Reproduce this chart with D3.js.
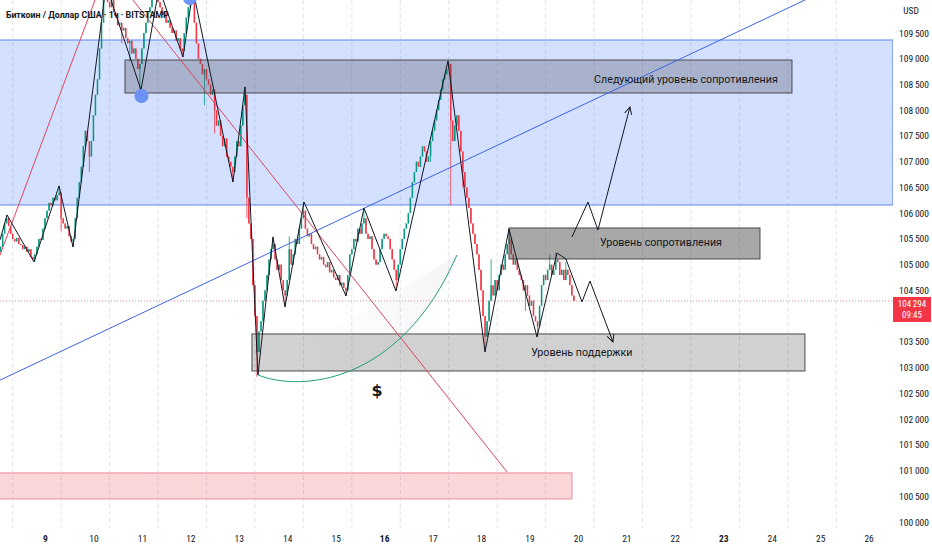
<!DOCTYPE html>
<html>
<head>
<meta charset="utf-8">
<script src="https://cdn.jsdelivr.net/npm/d3@7"></script>
<style>
  body { margin: 0; background: #fff; }
  svg { display: block; }
  .ax { font-family: "Liberation Sans Narrow", "Roboto Condensed", "Liberation Sans", sans-serif; font-size: 9.5px; fill: #131722; }
  .note { font-family: Roboto, "Noto Sans", sans-serif; font-size: 10.7px; fill: #131722; }
</style>
</head>
<body>
<svg id="chart"></svg>
<script>
// hourly closes, BTC/USD, from 8 June 02:00
const closes = [
  105350,105600,105800,105900,105750,105600,105500,105450,105520,105400,105380,105300,105350,105250,105300,105150,105100,105200,
  105350,105500,105480,105700,105900,106050,106200,106150,106300,106250,106350,106400,
  105900,105800,105700,105750,105550,105450,105500,
  105900,106300,106600,106900,107300,107600,107400,107100,107400,107900,108300,108600,109200,109700,110200,110350,
  110100,110000,110150,109900,109800,109650,109700,109550,109600,109400,109300,109350,109100,109200,109000,108800,108900,109200,
  109500,109700,109900,110000,110200,110300,110250,
  110100,110000,109850,109900,109700,109750,109600,109500,109550,109350,109400,109200,109150,
  109500,109800,110000,110200,110100,
  109700,109300,109000,108900,108700,108800,108600,108500,108300,108400,108000,107700,107800,107500,107300,107450,107100,107000,106900,106800,
  107100,107400,107300,107700,108100,108300,
  106300,105800,105500,104600,104000,103300,103700,
  103900,104300,104500,104800,105100,105300,105400,
  105100,104900,105000,104700,104500,104400,
  104700,105300,105000,105200,105500,105400,105700,105900,106050,
  105700,105550,105600,105400,105300,105350,105200,105100,105150,105000,104950,105050,104850,104900,104750,104700,104800,104600,104650,104550,104500,
  104800,105200,105300,105500,105450,105700,105600,105800,105900,
  105600,105500,105550,105300,105100,105000,105050,105300,105500,105600,105550,105500,105300,105100,104900,104700,
  105000,105300,105500,105700,105800,106000,106300,106600,106800,107000,106900,107100,107300,107200,107000,107100,107400,107600,107800,108000,108200,108400,108600,108700,108800,108900,
  107800,107400,107700,107900,107600,107200,106800,106500,106300,106100,105800,105600,105400,105200,104900,104500,104000,103600,103900,
  104300,104600,104400,104700,104500,104800,105000,104900,105200,105400,105500,
  105200,105000,105100,104900,104800,104700,104500,104600,104400,104200,104300,104000,103900,103800,
  104200,104600,104800,104700,104900,105000,104800,104900,105100,105050,104800,104900,104700,104900,104800,104600,104400,104294
];
const firstOpen = 105250;
const startDay = 8 + 2 / 24;
// [candle index, high, low] where the wick sticks out
const wicks = [
  [3,105965,null],[17,null,105050],[29,106530,null],[30,null,105650],[36,null,105340],[44,null,106800],[52,110400,null],
  [60,null,109300],[64,null,108950],[69,null,108380],[76,110350,null],[90,null,109030],[94,110300,null],[101,null,108100],
  [106,null,107550],[115,null,106600],[121,108460,null],[122,null,105900],[127,null,102820],[135,105540,null],[141,null,104180],
  [143,105550,null],[150,106220,null],[171,null,104390],[180,106100,null],[196,null,104490],[213,null,107000],
  [222,108960,null],[223,null,106150],[229,null,106500],[240,null,103300],[243,105100,null],[252,105700,null],
  [260,null,104100],[266,null,103590],[272,105200,null],[275,105230,null],[280,105050,null]
];

const dayTicks = d3.range(9, 27);
const boldDays = [9, 16, 23];
const gridDays = d3.range(8, 26).map(d => d + 1 / 3);
// 104 000 sits under the last-price label and is not shown
const priceTicks = d3.range(100000, 109501, 500).filter(v => v !== 104000);
const lastPrice = 104294;
const lastTimer = "09:45";
const title = "Биткоин / Доллар США · 1ч · BITSTAMP";

// drawings: [day, price]
const blueZone = [8.0, 26.5, 109364, 106159];
const nextResBox = [10.651, 24.418, 108975, 108335];
const resBox = [18.577, 23.758, 105712, 105110];
const supBox = [13.272, 24.686, 103653, 102934];
const pinkBox = [7.9, 19.877, 100953, 100448];
const blueTrend = [[7.9, 102680], [26.5, 110947]];
const redDown = [[10.554, 110452], [18.535, 100973]];
const redUp = [[7.97, 104935], [10.156, 110452]];
const zigzag = [
  [8.071,105479],[8.216,105965],[8.773,105052],[9.289,106528],[9.578,105343],[10.259,110432],
  [10.981,108393],[11.353,110374],[11.848,109034],[12.055,110335],[12.880,106606],[13.128,108451],
  [13.396,102857],[13.706,105537],[13.954,104178],[14.346,106217],[15.213,104391],[15.584,106101],
  [16.245,104488],[17.318,108956],[18.082,103303],[18.577,105693],[19.155,103595],[19.568,105227],
  [19.753,105110],[20.084,104275],[20.249,104682],[20.724,103498]
];
const upPath = [[19.877,105537],[20.207,106217],[20.414,105673],[21.074,108063]];
const circles = [[10.992,108276],[11.993,110180]];
const arc = [[13.396,102857],[14.263,102526],[16.327,102662],[17.504,105188]];
const notes = [
  ["Следующий уровень сопротивления", 22.23, 108587],
  ["Уровень сопротивления", 21.714, 105421],
  ["Уровень поддержки", 20.08, 103284]
];
const dollar = ["$", 15.852, 102546];

const W = 932, H = 550, plotR = 893, plotB = 528;
const svg = d3.select("#chart").attr("width", W).attr("height", H);

const x = d3.scaleLinear().domain([9, 26]).range([45, 868.6]);
const y = d3.scaleLinear().domain([100000, 109500]).range([522, 33]);

const defs = svg.append("defs");
defs.append("clipPath").attr("id", "plot")
  .append("rect").attr("x", 0).attr("y", 0).attr("width", plotR).attr("height", plotB);
const grad = defs.append("linearGradient").attr("id", "arcfill")
  .attr("x1", "0%").attr("x2", "100%").attr("y1", "0%").attr("y2", "0%");
grad.append("stop").attr("offset", "20%").attr("stop-color", "#999").attr("stop-opacity", 0);
grad.append("stop").attr("offset", "100%").attr("stop-color", "#999").attr("stop-opacity", 0.09);
defs.append("marker").attr("id", "arrow")
  .attr("viewBox", "0 0 10 10").attr("refX", 9).attr("refY", 5)
  .attr("markerWidth", 9).attr("markerHeight", 9).attr("markerUnits", "userSpaceOnUse")
  .attr("orient", "auto")
  .append("path").attr("d", "M1,1 L9,5 L1,9").attr("fill", "none").attr("stroke", "#131722").attr("stroke-width", 1.1);

const plot = svg.append("g").attr("clip-path", "url(#plot)");

// grid
plot.selectAll(".grid").data(gridDays).enter().append("line")
  .attr("x1", d => x(d)).attr("x2", d => x(d)).attr("y1", 0).attr("y2", plotB)
  .attr("stroke", "#e0e3eb").attr("stroke-dasharray", "4,3");

function box(g, b, fill, stroke) {
  return g.append("rect")
    .attr("x", x(b[0])).attr("y", y(b[2]))
    .attr("width", x(b[1]) - x(b[0])).attr("height", y(b[3]) - y(b[2]))
    .attr("fill", fill).attr("stroke", stroke).attr("stroke-width", 1);
}

box(plot, blueZone, "rgba(41,98,255,0.2)", "#5f86f2");
box(plot, pinkBox, "rgba(242,54,69,0.2)", "#ec8c98");

// candles
const candles = closes.map((c, i) => {
  const o = i === 0 ? firstOpen : closes[i - 1];
  return { t: startDay + i / 24, o: o, c: c, h: Math.max(o, c), l: Math.min(o, c) };
});
wicks.forEach(([i, h, l]) => { if (h) candles[i].h = h; if (l) candles[i].l = l; });

const cg = plot.append("g");
cg.selectAll("line").data(candles).enter().append("line")
  .attr("x1", d => x(d.t)).attr("x2", d => x(d.t))
  .attr("y1", d => y(d.h)).attr("y2", d => y(d.l))
  .attr("stroke", d => d.c >= d.o ? "#089981" : "#f23645").attr("stroke-width", 0.8);
cg.selectAll("rect").data(candles).enter().append("rect")
  .attr("x", d => x(d.t) - 0.75).attr("width", 1.5)
  .attr("y", d => y(Math.max(d.o, d.c)))
  .attr("height", d => Math.max(0.8, Math.abs(y(d.o) - y(d.c))))
  .attr("fill", d => d.c >= d.o ? "#089981" : "#f23645");

// last price line
plot.append("line").attr("x1", 0).attr("x2", plotR).attr("y1", y(lastPrice)).attr("y2", y(lastPrice))
  .attr("stroke", "#f23645").attr("stroke-opacity", 0.6).attr("stroke-dasharray", "1,2");

// zones drawn over candles
box(plot, nextResBox, "rgba(70,72,85,0.3)", "#4a4a4a");
box(plot, resBox, "rgba(70,70,70,0.47)", "#4a4a4a");
box(plot, supBox, "rgba(70,70,70,0.25)", "#4a4a4a");

const line = d3.line().x(d => x(d[0])).y(d => y(d[1]));
plot.append("path").attr("d", line(blueTrend)).attr("fill", "none").attr("stroke", "#3d63e6").attr("stroke-width", 1);
plot.append("path").attr("d", line(redDown)).attr("fill", "none").attr("stroke", "#e0445a").attr("stroke-width", 1);
plot.append("path").attr("d", line(redUp)).attr("fill", "none").attr("stroke", "#e0445a").attr("stroke-width", 1);

// arc with its light fill
const ap = arc.map(p => [x(p[0]), y(p[1])]);
const arcD = `M${ap[0]}C${ap[1]} ${ap[2]} ${ap[3]}`;
plot.append("path").attr("d", arcD + "Z").attr("fill", "url(#arcfill)");
plot.append("path").attr("d", arcD).attr("fill", "none").attr("stroke", "#22a07c").attr("stroke-width", 1);

plot.append("path").attr("d", line(zigzag)).attr("fill", "none")
  .attr("stroke", "#131722").attr("stroke-width", 1).attr("marker-end", "url(#arrow)");
plot.append("path").attr("d", line(upPath)).attr("fill", "none")
  .attr("stroke", "#131722").attr("stroke-width", 1).attr("marker-end", "url(#arrow)");

plot.selectAll(".dot").data(circles).enter().append("circle")
  .attr("cx", d => x(d[0])).attr("cy", d => y(d[1])).attr("r", 7)
  .attr("fill", "#6b92f4");

plot.selectAll(".note").data(notes).enter().append("text")
  .attr("class", "note").attr("x", d => x(d[1])).attr("y", d => y(d[2]))
  .attr("text-anchor", "middle").attr("dominant-baseline", "central")
  .text(d => d[0]);
plot.append("text").attr("x", x(dollar[1])).attr("y", y(dollar[2]))
  .attr("text-anchor", "middle").attr("dominant-baseline", "central")
  .style("font-family", "'DejaVu Sans', sans-serif").style("font-size", "16px").style("font-weight", "bold")
  .attr("fill", "#131722").text(dollar[0]);

// title
svg.append("text").attr("x", 6).attr("y", 18)
  .style("font-family", "'Liberation Sans Narrow', Roboto, sans-serif").style("font-size", "8.8px").style("font-weight", "bold")
  .attr("fill", "#131722").text(title);

// axes
const fmt = v => d3.format(",")(v).replace(",", "\u2009");
const yAxis = svg.append("g").attr("transform", `translate(${plotR},0)`)
  .call(d3.axisRight(y).tickValues(priceTicks).tickSize(0).tickPadding(6).tickFormat(fmt));
yAxis.select(".domain").remove();
yAxis.selectAll("text").attr("class", "ax").attr("font-family", null).attr("font-size", null).attr("fill", null);

svg.append("text").attr("class", "ax").attr("x", 911).attr("y", 14).attr("text-anchor", "middle").text("USD");

const xAxis = svg.append("g").attr("transform", `translate(0,${plotB})`)
  .call(d3.axisBottom(x).tickValues(dayTicks).tickSize(0).tickPadding(7).tickFormat(d3.format("d")));
xAxis.select(".domain").remove();
xAxis.selectAll("text").attr("class", "ax").attr("font-family", null).attr("font-size", null).attr("fill", null)
  .style("font-weight", d => boldDays.includes(d) ? "bold" : "normal");

// last price label
const lp = svg.append("g").attr("transform", `translate(${plotR},${y(lastPrice) - 4})`);
lp.append("rect").attr("width", 38).attr("height", 25).attr("fill", "#f23645");
lp.append("text").attr("class", "ax").attr("x", 19).attr("y", 10).attr("text-anchor", "middle")
  .style("fill", "#fff").style("font-size", "9px").text(fmt(lastPrice));
lp.append("text").attr("class", "ax").attr("x", 19).attr("y", 21).attr("text-anchor", "middle")
  .style("fill", "#fff").style("font-size", "9px").text(lastTimer);
</script>
</body>
</html>
